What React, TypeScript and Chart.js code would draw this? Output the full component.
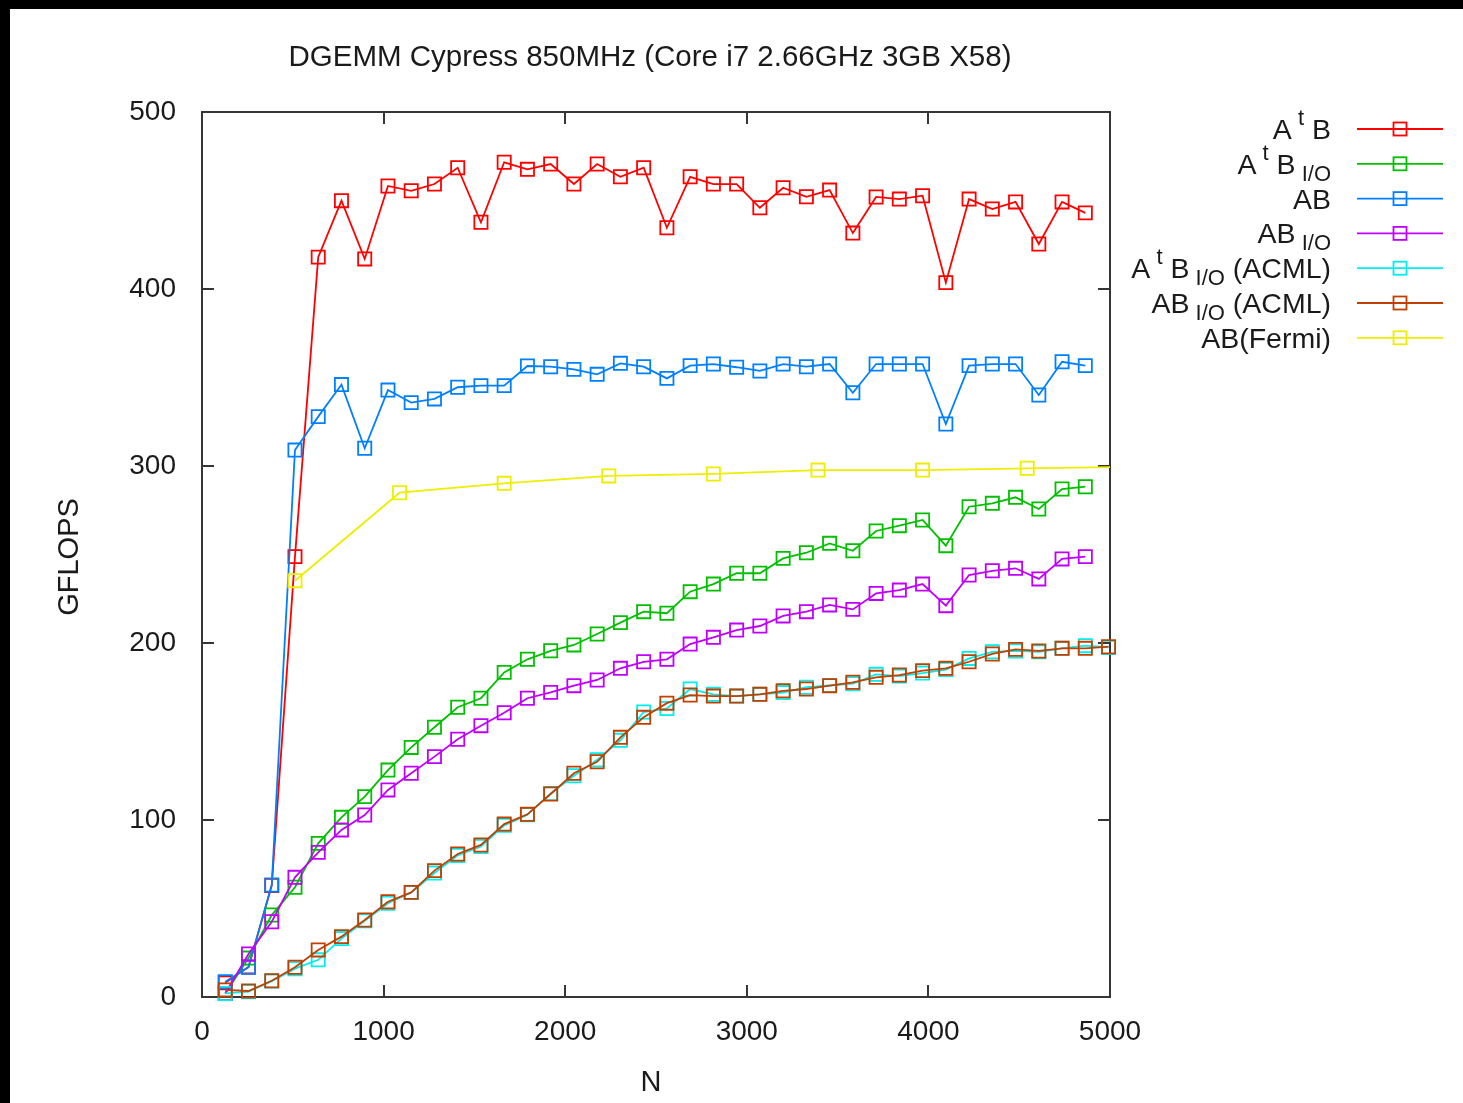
import { useEffect, useRef } from 'react';
import { Chart, registerables } from 'chart.js';

Chart.register(...registerables);

const W = 1463;
const H = 1103;

// Matrix size N
const nValues = [
  128, 256, 384, 512, 640, 768, 896, 1024, 1152, 1280, 1408, 1536, 1664, 1792, 1920, 2048, 2176, 2304, 2432,
  2560, 2688, 2816, 2944, 3072, 3200, 3328, 3456, 3584, 3712, 3840, 3968, 4096, 4224, 4352, 4480, 4608, 4736,
  4864,
];
const nValuesAcml = [
  128, 256, 384, 512, 640, 768, 896, 1024, 1152, 1280, 1408, 1536, 1664, 1792, 1920, 2048, 2176, 2304, 2432,
  2560, 2688, 2816, 2944, 3072, 3200, 3328, 3456, 3584, 3712, 3840, 3968, 4096, 4224, 4352, 4480, 4608, 4736,
  4864, 4992,
];
const nFermi = [512, 1088, 1664, 2240, 2816, 3392, 3968, 4544, 5120];

// GFLOPS
const atb = [
  8, 17, 63, 248.8, 418, 449.9, 417, 458.2, 455.5, 459.3, 468.5, 437.7, 471.6, 467.6, 470.6, 459.3, 470.6, 463.4,
  468.5, 434.6, 463.4, 459.3, 459.3, 445.9, 457.2, 452.1, 455.9, 431.6, 452, 450.8, 452.7, 403.6, 450.8, 445.2,
  449.2, 425.4, 449.2, 443,
];
const atbIo = [
  2, 22, 46.3, 62, 86.8, 101.5, 113.2, 128.2, 141, 152.4, 163.7, 168.8, 183.4, 190.8, 195.6, 198.9, 205.1, 211.5,
  217.7, 216.8, 229, 233.3, 239.4, 239.4, 247.8, 251, 256.3, 252.1, 263.3, 266.3, 269.5, 255, 277, 278.9, 282.3,
  275.7, 287, 288.3,
];
const ab = [
  8.6, 16.8, 63.3, 309, 327.9, 346, 310, 342.9, 335.8, 337.9, 344.5, 345.4, 345.4, 356.5, 356.1, 354.6, 351.8, 358,
  356.1, 349.5, 356.7, 357.6, 355.8, 353.7, 357.6, 356.1, 357.6, 341.4, 357.6, 357.6, 357.6, 323.7, 356.7, 357.6,
  357.6, 340.1, 358.9, 356.7,
];
const abIo = [
  2, 24.3, 42.5, 67.6, 81.7, 94.4, 102.8, 117, 126.4, 135.8, 145.6, 153.3, 160.6, 168.8, 172.1, 175.9, 179.1, 185.7,
  189.4, 190.8, 199.4, 203.2, 207.3, 209.6, 215.3, 217.7, 221.5, 219, 228, 229.9, 233.3, 221.1, 238.4, 240.8, 242.2,
  236.2, 247.5, 248.8,
];
const atbIoAcml = [
  2, 3, 9, 16, 21, 33, 43, 53, 59, 70, 80, 85, 97, 103, 115, 125, 134, 145, 161, 163, 174, 171, 170, 171, 172, 175,
  176, 177, 182.3, 181.3, 183, 185, 191.3, 195, 195.5, 195, 197, 198.5, 197.5,
];
const abIoAcml = [
  4, 3.4, 9.2, 16.8, 26.6, 34.1, 43.5, 53.8, 59.1, 71.4, 80.8, 85.9, 97.7, 103.2, 114.7, 126.4, 132.9, 146.7, 158,
  166, 170.6, 170, 170, 171, 173, 174, 175.9, 177.8, 180.6, 181.9, 184.4, 185.7, 189.4, 193.8, 196.4, 195.5, 197,
  197, 197.9,
];
const abFermi = [235.2, 284.9, 290.2, 294.4, 295.5, 297.7, 297.7, 298.7, 299.5];

const seriesNames = [
  'AtB',
  'AtB I/O',
  'AB',
  'AB I/O',
  'AtB I/O (ACML)',
  'AB I/O (ACML)',
  'AB(Fermi)',
];
// legend text pieces: 0 = normal, 1 = superscript, -1 = subscript
const legendParts: [string, number][][] = [
  [['A', 0], [' t', 1], [' B', 0]],
  [['A', 0], [' t', 1], [' B', 0], [' I/O', -1]],
  [['AB', 0]],
  [['AB', 0], [' I/O', -1]],
  [['A', 0], [' t', 1], [' B', 0], [' I/O', -1], [' (ACML)', 0]],
  [['AB', 0], [' I/O', -1], [' (ACML)', 0]],
  [['AB(Fermi)', 0]],
];
const seriesColors = ['#ff0000', '#00c000', '#0080ff', '#c000ff', '#00eeee', '#c04000', '#eeee00'];

const titleText = 'DGEMM Cypress 850MHz (Core i7 2.66GHz 3GB X58)';
const xTitle = 'N';
const yTitle = 'GFLOPS';
const xMin = 0;
const xMax = 5000;
const xStep = 1000;
const yMin = 0;
const yMax = 500;
const yStep = 100;

const FONT = "'Liberation Sans', Arial, sans-serif";
const TEXT = '#1a1a1a';

const toPts = (xs: number[], ys: number[]) => xs.map((x, i) => ({ x, y: ys[i] }));

const framePlugin = {
  id: 'gnuFrame',
  beforeDraw(chart: any) {
    const ctx = chart.ctx;
    ctx.save();
    ctx.fillStyle = '#ffffff';
    ctx.fillRect(0, 0, W, H);
    ctx.fillStyle = '#000000';
    ctx.fillRect(0, 0, W, 9);
    ctx.fillRect(0, 0, 10, H);
    ctx.restore();
  },
  beforeDatasetsDraw(chart: any) {
    const { ctx, chartArea: a, scales } = chart;
    ctx.save();
    ctx.strokeStyle = '#363636';
    ctx.lineWidth = 2;
    ctx.strokeRect(a.left, a.top, a.right - a.left, a.bottom - a.top);
    ctx.beginPath();
    const tl = 12;
    for (const t of scales.x.ticks) {
      const px = Math.round(scales.x.getPixelForValue(t.value));
      ctx.moveTo(px, a.bottom);
      ctx.lineTo(px, a.bottom - tl);
      ctx.moveTo(px, a.top);
      ctx.lineTo(px, a.top + tl);
    }
    for (const t of scales.y.ticks) {
      const py = Math.round(scales.y.getPixelForValue(t.value));
      ctx.moveTo(a.left, py);
      ctx.lineTo(a.left + tl, py);
      ctx.moveTo(a.right, py);
      ctx.lineTo(a.right - tl, py);
    }
    ctx.stroke();
    ctx.restore();
  },
  afterDraw(chart: any) {
    const ctx = chart.ctx;
    ctx.save();
    ctx.fillStyle = TEXT;
    // title
    ctx.font = `29.5px ${FONT}`;
    ctx.textAlign = 'center';
    ctx.textBaseline = 'middle';
    ctx.fillText(titleText, 650, 58);
    ctx.font = `29px ${FONT}`;
    // x title
    ctx.fillText(xTitle, 651, 1083);
    // y title
    ctx.save();
    ctx.translate(70, 557);
    ctx.rotate(-Math.PI / 2);
    ctx.fillText(yTitle, 0, 0);
    ctx.restore();

    // legend
    const mainSize = 28.5;
    const smallSize = 22;
    const rightX = 1331;
    legendParts.forEach((parts, i) => {
      const rowY = 129 + i * 34.8;
      let total = 0;
      const widths = parts.map(([s, k]) => {
        ctx.font = `${k === 0 ? mainSize : smallSize}px ${FONT}`;
        const w = ctx.measureText(s).width;
        total += w;
        return w;
      });
      let x = rightX - total;
      const base = rowY + 10;
      ctx.textAlign = 'left';
      ctx.textBaseline = 'alphabetic';
      parts.forEach(([s, k], j) => {
        ctx.font = `${k === 0 ? mainSize : smallSize}px ${FONT}`;
        const y = k === 0 ? base : k === 1 ? base - 14 : base + 7;
        ctx.fillText(s, x, y);
        x += widths[j];
      });
      const col = seriesColors[i];
      ctx.strokeStyle = col;
      ctx.lineWidth = 1.8;
      ctx.beginPath();
      ctx.moveTo(1357, rowY);
      ctx.lineTo(1443, rowY);
      ctx.stroke();
      ctx.strokeRect(1400 - 6.5, rowY - 6.5, 13, 13);
    });
    ctx.restore();
  },
};

export default function App() {
  const ref = useRef<HTMLCanvasElement | null>(null);

  useEffect(() => {
    if (!ref.current) return;
    const seriesData = [
      toPts(nValues, atb),
      toPts(nValues, atbIo),
      toPts(nValues, ab),
      toPts(nValues, abIo),
      toPts(nValuesAcml, atbIoAcml),
      toPts(nValuesAcml, abIoAcml),
      toPts(nFermi, abFermi),
    ];
    const datasets = seriesData.map((data, i) => ({
      label: seriesNames[i],
      data,
      borderColor: seriesColors[i],
      backgroundColor: 'rgba(0,0,0,0)',
      borderWidth: 1.8,
      pointStyle: 'rect',
      pointRadius: 9.3,
      pointBorderWidth: 1.8,
      pointBackgroundColor: 'rgba(0,0,0,0)',
      pointBorderColor: seriesColors[i],
      tension: 0,
      fill: false,
      order: seriesData.length - i,
      clip: i === 6 ? 0 : 10,
    }));
    const chart = new Chart(ref.current, {
      type: 'line',
      data: { datasets } as any,
      plugins: [framePlugin],
      options: {
        responsive: false,
        animation: false,
        devicePixelRatio: 1,
        layout: { padding: { left: 0, top: 112, right: 353, bottom: 0 } },
        plugins: {
          legend: { display: false },
          title: { display: false },
          tooltip: { enabled: false },
        },
        scales: {
          x: {
            type: 'linear',
            min: xMin,
            max: xMax,
            grid: { display: false, drawTicks: false },
            border: { display: false },
            ticks: {
              stepSize: xStep,
              maxRotation: 0,
              autoSkip: false,
              padding: 18,
              color: TEXT,
              font: { family: FONT, size: 28, lineHeight: 1.2 },
              callback: (v: any) => String(v),
            },
            afterFit: (s: any) => {
              s.height = 106;
            },
          },
          y: {
            type: 'linear',
            min: yMin,
            max: yMax,
            grid: { display: false, drawTicks: false },
            border: { display: false },
            ticks: {
              stepSize: yStep,
              padding: 26,
              color: TEXT,
              font: { family: FONT, size: 28 },
              callback: (v: any) => String(v),
            },
            afterFit: (s: any) => {
              s.width = 202;
            },
          },
        },
      } as any,
    });
    return () => chart.destroy();
  }, []);

  return (
    <>
      <style>{`body{margin:0;background:#fff;}`}</style>
      <canvas ref={ref} width={W} height={H} style={{ display: 'block', width: W, height: H }} />
    </>
  );
}
